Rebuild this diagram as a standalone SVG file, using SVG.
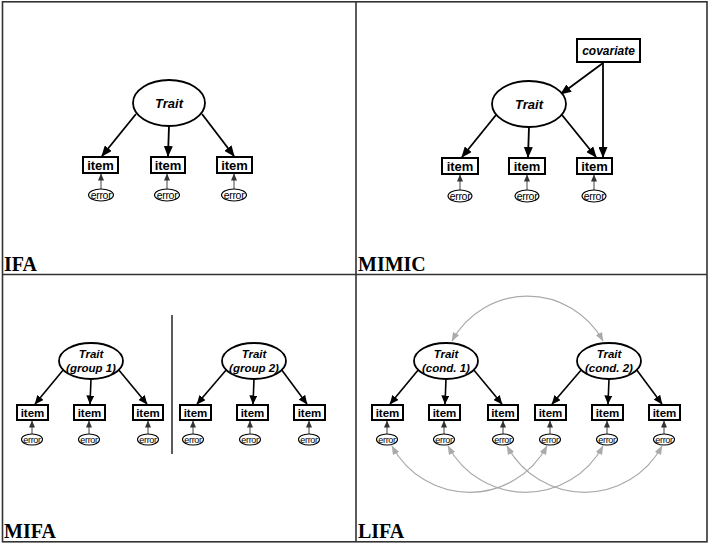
<svg xmlns="http://www.w3.org/2000/svg" width="709" height="544" viewBox="0 0 709 544">
<defs>
<marker id="ab" markerUnits="userSpaceOnUse" markerWidth="11" markerHeight="9" refX="10" refY="4.5" orient="auto"><path d="M0,0 L11,4.5 L0,9 z" fill="#000"/></marker>
<marker id="abs" markerUnits="userSpaceOnUse" markerWidth="9" markerHeight="8" refX="8.5" refY="4" orient="auto"><path d="M0,0 L9,4 L0,8 z" fill="#000"/></marker>
<marker id="ae" markerUnits="userSpaceOnUse" markerWidth="7" markerHeight="6" refX="6.5" refY="3" orient="auto"><path d="M0,0 L7,3 L0,6 z" fill="#333"/></marker>
<marker id="ag" markerUnits="userSpaceOnUse" markerWidth="9" markerHeight="7" refX="8.5" refY="3.5" orient="auto-start-reverse"><path d="M0,0 L9,3.5 L0,7 z" fill="#aaa"/></marker>
</defs>
<style>
.frame{fill:none;stroke:#333;stroke-width:1.6}
.lat{fill:#fff;stroke:#000;stroke-width:1.8}
.box{fill:#fff;stroke:#000;stroke-width:2}
.err{fill:#fff;stroke:#000;stroke-width:1.1}
.t{font-family:"Liberation Sans",Arial,sans-serif;font-weight:bold;text-anchor:middle;fill:#000}
.ti{font-family:"Liberation Sans",Arial,sans-serif;font-weight:bold;font-style:italic;text-anchor:middle;fill:#000}
.te{font-family:"Liberation Sans",Arial,sans-serif;text-anchor:middle;fill:#000;letter-spacing:-0.3px}
.lbl{font-family:"Liberation Serif","Times New Roman",serif;font-weight:bold;font-size:20px;fill:#000}
.ld{stroke:#000;stroke-width:1.8;fill:none;marker-end:url(#ab)}
.lds{stroke:#000;stroke-width:1.6;fill:none;marker-end:url(#abs)}
.le{stroke:#444;stroke-width:1;fill:none;marker-end:url(#ae)}
.cv{stroke:#aaa;stroke-width:1.2;fill:none;marker-start:url(#ag);marker-end:url(#ag)}
</style>
<rect x="0" y="0" width="709" height="544" fill="#fff"/>
<g id="frame">
<rect class="frame" x="2.5" y="1.8" width="704.5" height="540"/>
<line class="frame" x1="356" y1="1.8" x2="356" y2="541.8"/>
<line class="frame" x1="2.5" y1="274.5" x2="707" y2="274.5"/>
<line x1="172" y1="315" x2="172" y2="454" stroke="#333" stroke-width="1.6"/>
</g>
<g id="labels">
<text class="lbl" x="4" y="271">IFA</text>
<text class="lbl" x="358" y="271">MIMIC</text>
<text class="lbl" x="4" y="538">MIFA</text>
<text class="lbl" x="358" y="538">LIFA</text>
</g>
<g id="connectors">
<line class="ld" x1="136" y1="114" x2="102" y2="156"/>
<line class="ld" x1="169" y1="126" x2="168" y2="156"/>
<line class="ld" x1="202" y1="114" x2="234" y2="156"/>
<line class="le" x1="101" y1="189" x2="101" y2="174"/>
<line class="le" x1="167" y1="189" x2="167" y2="174"/>
<line class="le" x1="234" y1="189" x2="234" y2="174"/>
<line class="ld" x1="496" y1="115" x2="462" y2="157"/>
<line class="ld" x1="529" y1="127" x2="528" y2="157"/>
<line class="ld" x1="562" y1="115" x2="596" y2="157"/>
<line class="ld" x1="603" y1="63" x2="561" y2="94"/>
<line class="ld" x1="603" y1="63" x2="603" y2="157"/>
<line class="le" x1="460" y1="190" x2="460" y2="175"/>
<line class="le" x1="527" y1="190" x2="527" y2="175"/>
<line class="le" x1="594" y1="190" x2="594" y2="175"/>
<line class="lds" x1="64" y1="369" x2="35" y2="404"/>
<line class="lds" x1="91" y1="379" x2="90" y2="404"/>
<line class="lds" x1="118" y1="369" x2="147" y2="404"/>
<line class="lds" x1="227" y1="369" x2="197" y2="404"/>
<line class="lds" x1="254" y1="379" x2="253" y2="404"/>
<line class="lds" x1="281" y1="369" x2="307" y2="404"/>
<line class="le" x1="32" y1="434" x2="32" y2="421"/>
<line class="le" x1="89" y1="434" x2="89" y2="421"/>
<line class="le" x1="148" y1="434" x2="148" y2="421"/>
<line class="le" x1="193" y1="434" x2="193" y2="421"/>
<line class="le" x1="250" y1="434" x2="250" y2="421"/>
<line class="le" x1="309" y1="434" x2="309" y2="421"/>
<line class="lds" x1="419" y1="369" x2="390" y2="404"/>
<line class="lds" x1="446" y1="379" x2="445" y2="404"/>
<line class="lds" x1="473" y1="369" x2="502" y2="404"/>
<line class="lds" x1="582" y1="369" x2="552" y2="404"/>
<line class="lds" x1="609" y1="379" x2="608" y2="404"/>
<line class="lds" x1="636" y1="369" x2="662" y2="404"/>
<line class="le" x1="387" y1="434" x2="387" y2="421"/>
<line class="le" x1="444" y1="434" x2="444" y2="421"/>
<line class="le" x1="503" y1="434" x2="503" y2="421"/>
<line class="le" x1="550" y1="434" x2="550" y2="421"/>
<line class="le" x1="607" y1="434" x2="607" y2="421"/>
<line class="le" x1="664" y1="434" x2="664" y2="421"/>
<path class="cv" d="M452,341 A86,86 0 0 1 603,341"/>
<path class="cv" d="M392,446 A88,88 0 0 0 547,446"/>
<path class="cv" d="M448,446 A88,88 0 0 0 603,446"/>
<path class="cv" d="M507,446 A88,88 0 0 0 662,446"/>
</g>
<g id="ifa-trait"><ellipse class="lat" cx="169" cy="103" rx="36" ry="23"/><text class="ti" x="169" y="107.5" font-size="13">Trait</text></g>
<g id="ifa-item1"><rect class="box" x="83" y="157" width="35" height="16"/><text class="t" x="100.5" y="169.5" font-size="13">item</text></g>
<g id="ifa-item2"><rect class="box" x="151" y="157" width="34" height="16"/><text class="t" x="168" y="169.5" font-size="13">item</text></g>
<g id="ifa-item3"><rect class="box" x="217" y="157" width="35" height="16"/><text class="t" x="234.5" y="169.5" font-size="13">item</text></g>
<g id="ifa-err1"><ellipse class="err" cx="101" cy="195" rx="12.5" ry="6"/><text class="te" x="101" y="198.5" font-size="10.5">error</text></g>
<g id="ifa-err2"><ellipse class="err" cx="167" cy="195" rx="12.5" ry="6"/><text class="te" x="167" y="198.5" font-size="10.5">error</text></g>
<g id="ifa-err3"><ellipse class="err" cx="234" cy="195" rx="12.5" ry="6"/><text class="te" x="234" y="198.5" font-size="10.5">error</text></g>
<g id="mimic-cov"><rect class="box" x="577" y="39" width="63" height="23"/><text class="ti" x="608.5" y="55" font-size="12">covariate</text></g>
<g id="mimic-trait"><ellipse class="lat" cx="529" cy="104" rx="37" ry="23"/><text class="ti" x="529" y="108.5" font-size="13">Trait</text></g>
<g id="mimic-item1"><rect class="box" x="442" y="158" width="36" height="16"/><text class="t" x="460" y="170.5" font-size="13">item</text></g>
<g id="mimic-item2"><rect class="box" x="509" y="158" width="36" height="16"/><text class="t" x="527" y="170.5" font-size="13">item</text></g>
<g id="mimic-item3"><rect class="box" x="577" y="158" width="35" height="16"/><text class="t" x="594.5" y="170.5" font-size="13">item</text></g>
<g id="mimic-err1"><ellipse class="err" cx="460" cy="196" rx="12" ry="6"/><text class="te" x="460" y="199.5" font-size="10.5">error</text></g>
<g id="mimic-err2"><ellipse class="err" cx="527" cy="196" rx="12" ry="6"/><text class="te" x="527" y="199.5" font-size="10.5">error</text></g>
<g id="mimic-err3"><ellipse class="err" cx="594" cy="196" rx="12" ry="6"/><text class="te" x="594" y="199.5" font-size="10.5">error</text></g>
<g id="mifa-trait1"><ellipse class="lat" cx="91" cy="361" rx="32" ry="18"/><text class="ti" x="91" y="358" font-size="11.5">Trait</text><text class="ti" x="91" y="372" font-size="11.5">(group 1)</text></g>
<g id="mifa-trait2"><ellipse class="lat" cx="254" cy="361" rx="32" ry="18"/><text class="ti" x="254" y="358" font-size="11.5">Trait</text><text class="ti" x="254" y="372" font-size="11.5">(group 2)</text></g>
<g id="mifa-item1"><rect class="box" x="17" y="405" width="31" height="15"/><text class="t" x="32.5" y="416.5" font-size="11.5">item</text></g>
<g id="mifa-item2"><rect class="box" x="74" y="405" width="31" height="15"/><text class="t" x="89.5" y="416.5" font-size="11.5">item</text></g>
<g id="mifa-item3"><rect class="box" x="133" y="405" width="30" height="15"/><text class="t" x="148" y="416.5" font-size="11.5">item</text></g>
<g id="mifa-item4"><rect class="box" x="180" y="405" width="31" height="15"/><text class="t" x="195.5" y="416.5" font-size="11.5">item</text></g>
<g id="mifa-item5"><rect class="box" x="237" y="405" width="31" height="15"/><text class="t" x="252.5" y="416.5" font-size="11.5">item</text></g>
<g id="mifa-item6"><rect class="box" x="294" y="405" width="31" height="15"/><text class="t" x="309.5" y="416.5" font-size="11.5">item</text></g>
<g id="mifa-err1"><ellipse class="err" cx="32" cy="439.5" rx="10.5" ry="5.5"/><text class="te" x="32" y="442.5" font-size="9">error</text></g>
<g id="mifa-err2"><ellipse class="err" cx="89" cy="439.5" rx="10.5" ry="5.5"/><text class="te" x="89" y="442.5" font-size="9">error</text></g>
<g id="mifa-err3"><ellipse class="err" cx="148" cy="439.5" rx="10.5" ry="5.5"/><text class="te" x="148" y="442.5" font-size="9">error</text></g>
<g id="mifa-err4"><ellipse class="err" cx="193" cy="439.5" rx="10.5" ry="5.5"/><text class="te" x="193" y="442.5" font-size="9">error</text></g>
<g id="mifa-err5"><ellipse class="err" cx="250" cy="439.5" rx="10.5" ry="5.5"/><text class="te" x="250" y="442.5" font-size="9">error</text></g>
<g id="mifa-err6"><ellipse class="err" cx="309" cy="439.5" rx="10.5" ry="5.5"/><text class="te" x="309" y="442.5" font-size="9">error</text></g>
<g id="lifa-trait1"><ellipse class="lat" cx="446" cy="361" rx="32" ry="18"/><text class="ti" x="446" y="358" font-size="11.5">Trait</text><text class="ti" x="446" y="372" font-size="11.5">(cond. 1)</text></g>
<g id="lifa-trait2"><ellipse class="lat" cx="609" cy="361" rx="32" ry="18"/><text class="ti" x="609" y="358" font-size="11.5">Trait</text><text class="ti" x="609" y="372" font-size="11.5">(cond. 2)</text></g>
<g id="lifa-item1"><rect class="box" x="372" y="405" width="31" height="15"/><text class="t" x="387.5" y="416.5" font-size="11.5">item</text></g>
<g id="lifa-item2"><rect class="box" x="429" y="405" width="31" height="15"/><text class="t" x="444.5" y="416.5" font-size="11.5">item</text></g>
<g id="lifa-item3"><rect class="box" x="488" y="405" width="30" height="15"/><text class="t" x="503" y="416.5" font-size="11.5">item</text></g>
<g id="lifa-item4"><rect class="box" x="535" y="405" width="31" height="15"/><text class="t" x="550.5" y="416.5" font-size="11.5">item</text></g>
<g id="lifa-item5"><rect class="box" x="592" y="405" width="31" height="15"/><text class="t" x="607.5" y="416.5" font-size="11.5">item</text></g>
<g id="lifa-item6"><rect class="box" x="649" y="405" width="31" height="15"/><text class="t" x="664.5" y="416.5" font-size="11.5">item</text></g>
<g id="lifa-err1"><ellipse class="err" cx="387" cy="439.5" rx="10.5" ry="5.5"/><text class="te" x="387" y="442.5" font-size="9">error</text></g>
<g id="lifa-err2"><ellipse class="err" cx="444" cy="439.5" rx="10.5" ry="5.5"/><text class="te" x="444" y="442.5" font-size="9">error</text></g>
<g id="lifa-err3"><ellipse class="err" cx="503" cy="439.5" rx="10.5" ry="5.5"/><text class="te" x="503" y="442.5" font-size="9">error</text></g>
<g id="lifa-err4"><ellipse class="err" cx="550" cy="439.5" rx="10.5" ry="5.5"/><text class="te" x="550" y="442.5" font-size="9">error</text></g>
<g id="lifa-err5"><ellipse class="err" cx="607" cy="439.5" rx="10.5" ry="5.5"/><text class="te" x="607" y="442.5" font-size="9">error</text></g>
<g id="lifa-err6"><ellipse class="err" cx="664" cy="439.5" rx="10.5" ry="5.5"/><text class="te" x="664" y="442.5" font-size="9">error</text></g>
</svg>
